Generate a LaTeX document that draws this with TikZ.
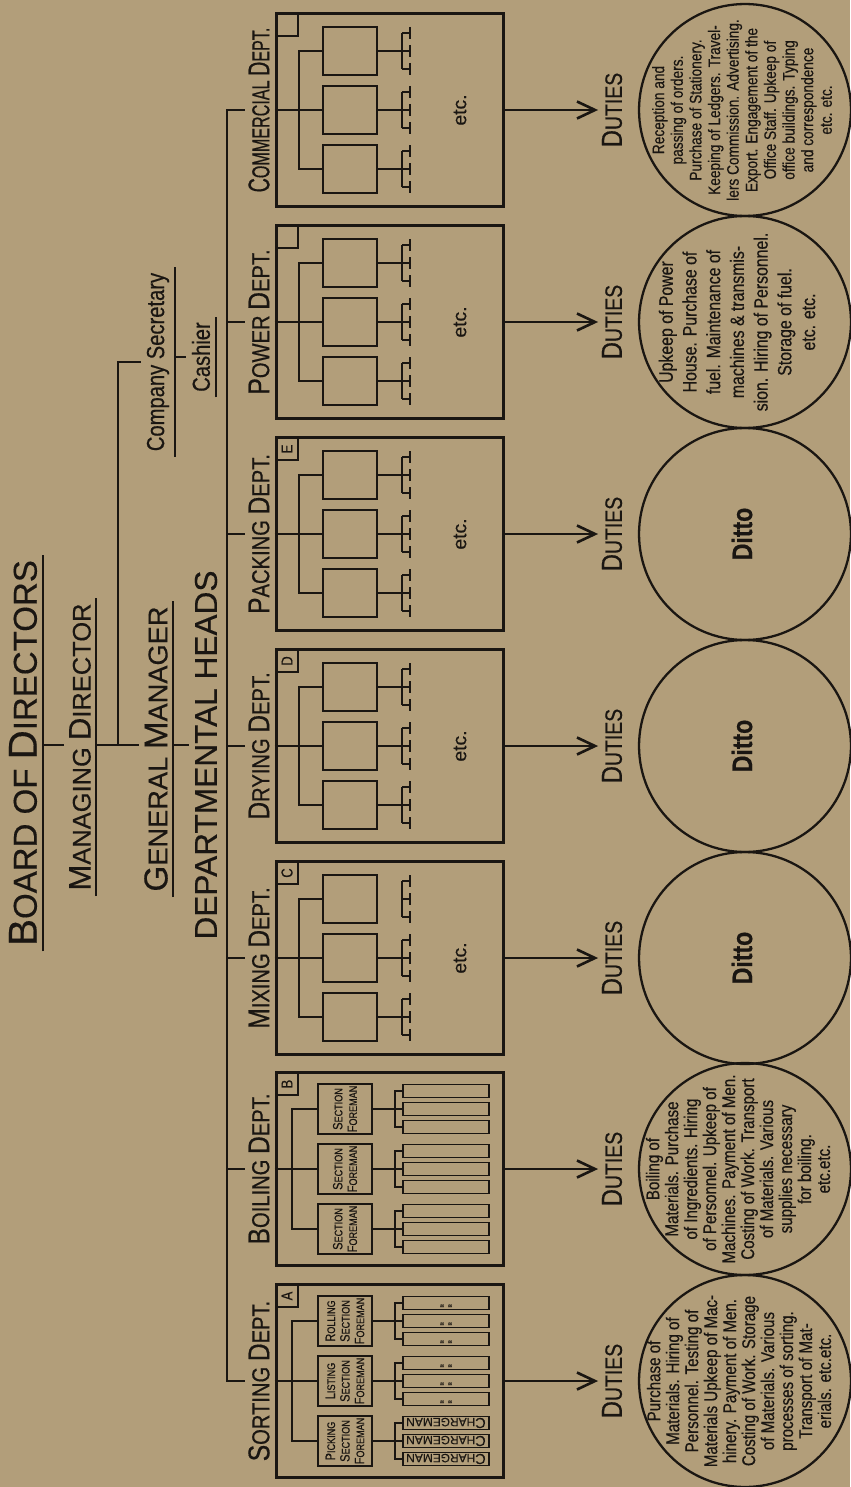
\documentclass[tikz,border=0pt]{standalone}
\usepackage{fontspec}
\usepackage{graphicx}
\usetikzlibrary{arrows.meta}
\setmainfont{Liberation Sans}[FakeBold=0.3]
\newfontfamily\condfont{Liberation Sans}[FakeStretch=0.82, FakeBold=0.5]
\definecolor{paper-tan}{RGB}{178,158,122}
\definecolor{ink-dark}{RGB}{26,22,18}
\newcommand{\capini}[1]{\scalebox{1.22}{#1}}

\begin{document}
\begin{tikzpicture}[
  x=0.02cm, y=-0.02cm,
  every node/.style = {text=ink-dark},
  % Line styles
  orgline/.style    = {draw=ink-dark, line width=1.5pt},
  thinline/.style   = {draw=ink-dark, line width=1.1pt},
  dutyarrow/.style  = {orgline, -{Straight Barb[length=3.6mm, width=3.4mm]}},
  % Text styles
  titletext/.style  = {rotate=90, inner sep=3pt},
  deptlabel/.style  = {rotate=90, inner sep=2pt, font=\condfont\fontsize{14}{14}\selectfont},
  dutylabel/.style  = {rotate=90, inner sep=2pt, font=\condfont\fontsize{13.5}{14}\selectfont},
  dutytext/.style   = {rotate=90, inner sep=0pt, align=center,
                       font=\condfont\fontsize{10.5}{10.8}\selectfont},
  dittotext/.style  = {rotate=90, inner sep=0pt, font=\condfont\bfseries\fontsize{16}{16}\selectfont},
  etctext/.style    = {rotate=90, inner sep=0pt, font=\fontsize{11}{11}\selectfont},
  bartext/.style    = {inner sep=0pt, font=\fontsize{6.8}{7}\selectfont},
  % Box styles
  deptbox/.style    = {draw=ink-dark, line width=1.7pt, minimum width=4.56cm,
                       minimum height=3.86cm, inner sep=0pt},
  lettersq/.style   = {draw=ink-dark, line width=1.1pt, rotate=90, minimum size=0.44cm,
                       inner sep=0pt, font=\condfont\fontsize{9}{9}\selectfont},
  sectbox/.style    = {draw=ink-dark, line width=1.1pt, minimum width=1.08cm,
                       minimum height=0.96cm, inner sep=0pt},
  foremanbox/.style = {draw=ink-dark, line width=1.1pt, rotate=90, minimum width=1cm,
                       minimum height=1.08cm, inner sep=0pt, align=center,
                       font=\condfont\fontsize{6.3}{8.3}\selectfont},
  chargebar/.style  = {draw=ink-dark, line width=1.1pt, minimum width=1.72cm,
                       minimum height=0.26cm, inner sep=0pt},
  dutycircle/.style = {circle, draw=ink-dark, line width=1.3pt, minimum size=4.24cm, inner sep=0pt},
]

\useasboundingbox (0,0) rectangle (850,1487);
\fill[paper-tan] (0,0) rectangle (850,1487);

% ── Management ─────────────────────────────────────────────────────────────────
\node[titletext, font=\fontsize{18.8}{19}\selectfont] (board) at (23,753)
  {\capini{B}OARD OF \capini{D}IRECTORS};
\node[titletext, font=\fontsize{14.5}{15}\selectfont] (md) at (80,747)
  {\capini{M}ANAGING \capini{D}IRECTOR};
\node[titletext, font=\fontsize{15.5}{16}\selectfont] (gm) at (156,749)
  {\capini{G}ENERAL \capini{M}ANAGER};
\node[titletext, font=\fontsize{18}{18}\selectfont] (heads) at (206,755)
  {DEPARTMENTAL HEADS};
\node[titletext, font=\condfont\fontsize{14}{14}\selectfont] (secretary) at (158,362)
  {Company Secretary};
\node[titletext, font=\condfont\fontsize{14}{14}\selectfont] (cashier) at (201,357)
  {Cashier};

\foreach \n in {board, md, gm, secretary, cashier}
  \draw[orgline, line width=1.2pt] (\n.south west) -- (\n.south east);

\coordinate (axis) at (0,745);
\coordinate (mdbus) at (118,745);
\coordinate (bar) at (227,0);

\draw[orgline] (board.south |- axis) -- (md.north |- axis);
\draw[orgline] (md.south |- axis) -- (gm.north |- axis);
\draw[orgline] (mdbus) |- (secretary.north);
\draw[orgline] (secretary.south |- cashier.north) -- (cashier.north);
\draw[orgline] (gm.south |- axis) -- (heads.north |- axis);

% ── Departments ────────────────────────────────────────────────────────────────
\node[deptbox] (commercial) at (390,110)  {};
\node[deptbox] (power)      at (390,322)  {};
\node[deptbox] (packing)    at (390,534)  {};
\node[deptbox] (drying)     at (390,746)  {};
\node[deptbox] (mixing)     at (390,958)  {};
\node[deptbox] (boiling)    at (390,1169) {};
\node[deptbox] (sorting)    at (390,1381) {};

\node[deptlabel] (commercial-lbl) at (259,110)
  {\scalebox{0.8}[1]{\capini{C}OMMERCIAL \capini{D}EPT.}};
\node[deptlabel] (power-lbl)   at (259,322)  {\capini{P}OWER \capini{D}EPT.};
\node[deptlabel] (packing-lbl) at (259,534)  {\capini{P}ACKING \capini{D}EPT.};
\node[deptlabel] (drying-lbl)  at (259,746)  {\capini{D}RYING \capini{D}EPT.};
\node[deptlabel] (mixing-lbl)  at (259,958)  {\capini{M}IXING \capini{D}EPT.};
\node[deptlabel] (boiling-lbl) at (259,1169) {\capini{B}OILING \capini{D}EPT.};
\node[deptlabel] (sorting-lbl) at (259,1381) {\capini{S}ORTING \capini{D}EPT.};

\node[lettersq] (commercial-sq) at (287,25)   {};
\node[lettersq] (power-sq)      at (287,237)  {};
\node[lettersq] (packing-sq)    at (287,449)  {E};
\node[lettersq] (drying-sq)     at (287,661)  {D};
\node[lettersq] (mixing-sq)     at (287,873)  {C};
\node[lettersq] (boiling-sq)    at (287,1084) {B};
\node[lettersq] (sorting-sq)    at (287,1296) {A};

% departmental heads bar
\draw[orgline] (commercial-lbl.north) -- (commercial-lbl.north -| bar)
  -- (sorting-lbl.north -| bar) -- (sorting-lbl.north);
\foreach \d in {power, packing, drying, mixing, boiling}
  \draw[orgline] (\d-lbl.north -| bar) -- (\d-lbl.north);

% plain departments: three section boxes, each with a small comb
\foreach \d/\c/\first in {commercial/110/1, power/322/1, packing/534/1, drying/746/1, mixing/958/2} {
  \foreach \k/\s in {1/-59, 2/0, 3/59} {
    \node[sectbox] (\d-s\k) at (350,\c+\s) {};
    \coordinate (\d-m\k) at (402,\c+\s);
    \draw[thinline] (\d-m\k) ++(0,-18) -- ++(0,36);
    \foreach \t in {-18,0,18}
      \draw[thinline] (\d-m\k) ++(0,\t) -- ++(8,0) ++(0,-6) -- ++(0,12);
  }
  \foreach \k in {\first,...,3}
    \draw[thinline] (\d-s\k.east) -- (\d-m\k);
  \draw[thinline] (\d.west) -- (\d-s2.west);
  \draw[thinline] (\d-s1.west) -- ++(-23,0) |- (\d-s3.west);
  \node[etctext] (\d-etc) at (460,\c) {etc.};
}

% boiling and sorting: foremen and chargemen
\node[foremanbox] (boiling-s1) at (345,1109) {\capini{S}ECTION\\\capini{F}OREMAN};
\node[foremanbox] (boiling-s2) at (345,1169) {\capini{S}ECTION\\\capini{F}OREMAN};
\node[foremanbox] (boiling-s3) at (345,1229) {\capini{S}ECTION\\\capini{F}OREMAN};
\node[foremanbox] (sorting-s1) at (345,1321) {\capini{R}OLLING\\\capini{S}ECTION\\\capini{F}OREMAN};
\node[foremanbox] (sorting-s2) at (345,1381) {\capini{L}ISTING\\\capini{S}ECTION\\\capini{F}OREMAN};
\node[foremanbox] (sorting-s3) at (345,1441) {\capini{P}ICKING\\\capini{S}ECTION\\\capini{F}OREMAN};

\foreach \d/\c in {boiling/1169, sorting/1381} {
  \foreach \k/\s in {1/-60, 2/0, 3/60} {
    \foreach \j/\t in {1/-18, 2/0, 3/18}
      \node[chargebar] (\d-b\k\j) at (446,\c+\s+\t) {};
    \draw[thinline] (\d-s\k.south) -- (\d-b\k2.west);
    \draw[thinline] (\d-b\k1.west) -- ++(-7,0) |- (\d-b\k3.west);
  }
  \draw[thinline] (\d.west) -- (\d-s2.north);
  \draw[thinline] (\d-s1.north) -- ++(-25,0) |- (\d-s3.north);
}

\foreach \k in {1,2}
  \foreach \j in {1,2,3}
    \node[bartext] (sorting-q\k\j) at (sorting-b\k\j) {\rotatebox{180}{''\,\,''}};
\foreach \j in {1,2,3}
  \node[bartext] (sorting-cm\j) at (sorting-b3\j) {\rotatebox{180}{\capini{C}HARGEMAN}};

% ── Duties ─────────────────────────────────────────────────────────────────────
\foreach \d/\c in {commercial/110, power/322, packing/534, drying/746, mixing/958,
                   boiling/1169, sorting/1381} {
  \node[dutylabel] (\d-dut) at (612,\c) {\capini{D}UTIES};
  \draw[dutyarrow] (\d.east) -- (\d-dut.north);
  \node[dutycircle] (\d-c) at (745,\c) {};
}

\node[dutytext, font=\condfont\fontsize{9.5}{10.6}\selectfont] (commercial-txt) at (742,110) {
  Reception and\\ passing of orders.\\ Purchase of Stationery.\\
  Keeping of Ledgers. Travel-\\ lers Commission. Advertising.\\
  Export. Engagement of the\\ Office Staff. Upkeep of\\
  office buildings. Typing\\ and correspondence\\ etc. etc.};
\node[dutytext, font=\condfont\fontsize{11}{13.5}\selectfont] (power-txt) at (737,322) {
  Upkeep of Power\\ House. Purchase of\\ fuel. Maintenance of\\
  machines \& transmis-\\ sion. Hiring of Personnel.\\ Storage of fuel.\\ etc. etc.};
\node[dittotext] (packing-txt) at (742,534) {Ditto};
\node[dittotext] (drying-txt)  at (742,746) {Ditto};
\node[dittotext] (mixing-txt)  at (742,958) {Ditto};
\node[dutytext] (boiling-txt) at (738,1169) {
  Boiling of\\ Materials. Purchase\\ of Ingredients. Hiring\\
  of Personnel. Upkeep of\\ Machines. Payment of Men.\\
  Costing of Work. Transport\\ of Materials. Various\\
  supplies necessary\\ for boiling.\\ etc.etc.};
\node[dutytext] (sorting-txt) at (739,1381) {
  Purchase of\\ Materials. Hiring of\\ Personnel. Testing of\\
  Materials Upkeep of Mac-\\ hinery. Payment of Men.\\
  Costing of Work. Storage\\ of Materials. Various\\
  processes of sorting.\\ Transport of Mat-\\ erials. etc.etc.};

\end{tikzpicture}
\end{document}
